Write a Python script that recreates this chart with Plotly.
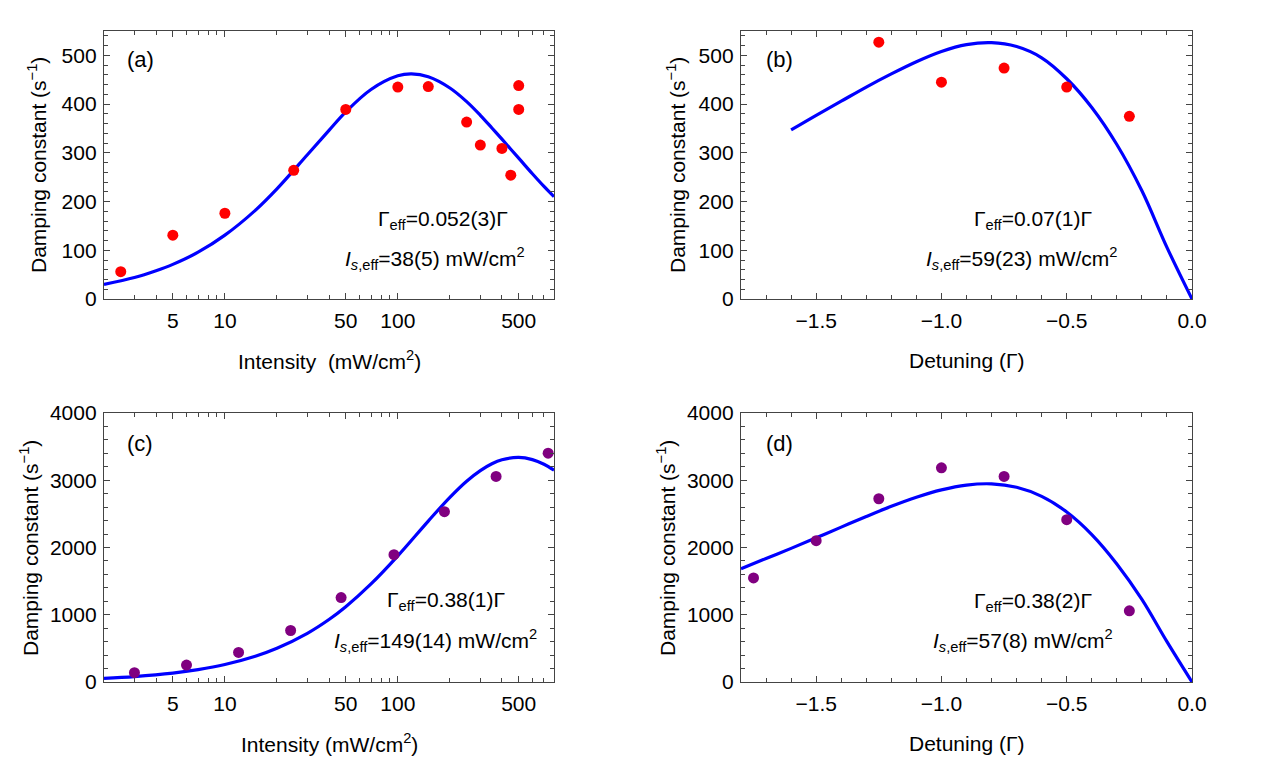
import math
import plotly.graph_objects as go

# ---------------- data ----------------
# (a) intensity scan, red points
a_intensity = [2.5, 5, 10, 25, 50, 100, 150, 250, 300, 400, 450, 500, 500]
a_damping = [56, 131, 176, 264, 389, 435, 436, 363, 316, 309, 254, 438, 389]
a_fit_intensity = [2, 3, 4, 5, 7, 10, 15, 20, 30, 40, 50, 70, 100, 120, 150, 200, 250, 300, 350, 400, 500, 600, 700, 800]
a_fit_damping = [30, 44, 58, 71, 96, 131, 182, 226, 296, 346, 384, 430, 458, 462, 456, 433, 405, 377, 351, 328, 289, 257, 231, 210]

# (b) detuning scan, red points
b_detuning = [-1.25, -1.0, -0.75, -0.5, -0.25]
b_damping = [527, 445, 474, 435, 375]
b_fit_detuning = [-1.6, -1.5, -1.4, -1.3, -1.2, -1.1, -1.0, -0.9, -0.8, -0.7, -0.6, -0.5, -0.4, -0.3, -0.2, -0.1, 0.0]
b_fit_damping = [347, 377, 406, 435, 462, 487, 508, 522, 526, 518, 495, 452, 393, 317, 222, 106, 0]

# (c) intensity scan, purple points
c_intensity = [3, 6, 12, 24, 47, 95, 186, 370, 740]
c_damping = [138, 252, 440, 766, 1256, 1894, 2532, 3056, 3402]
c_fit_intensity = [2, 3, 5, 7, 10, 15, 20, 30, 40, 50, 70, 100, 150, 200, 250, 300, 350, 400, 500, 600, 700, 800]
c_fit_damping = [54, 81, 133, 185, 261, 384, 502, 724, 929, 1119, 1458, 1876, 2393, 2746, 2986, 3144, 3246, 3305, 3340, 3307, 3238, 3150]

# (d) detuning scan, purple points
d_detuning = [-1.75, -1.5, -1.25, -1.0, -0.75, -0.5, -0.25]
d_damping = [1548, 2102, 2725, 3185, 3056, 2413, 1058]
d_fit_detuning = [-1.8, -1.7, -1.6, -1.5, -1.4, -1.3, -1.2, -1.1, -1.0, -0.9, -0.8, -0.7, -0.6, -0.5, -0.4, -0.3, -0.2, -0.1, 0.0]
d_fit_damping = [1685, 1837, 1987, 2144, 2303, 2461, 2612, 2747, 2857, 2928, 2946, 2895, 2760, 2528, 2193, 1756, 1228, 600, 0]

log_ticks = [5, 10, 50, 100, 500]
log_minor = [2, 3, 4, 6, 7, 8, 9, 20, 30, 40, 60, 70, 80, 90, 200, 300, 400, 600, 700, 800]
det_ticks = [-1.5, -1.0, -0.5, 0.0]

panel_labels = ["(a)", "(b)", "(c)", "(d)"]
gamma_texts = ["Γ<sub>eff</sub>=0.052(3)Γ", "Γ<sub>eff</sub>=0.07(1)Γ",
               "Γ<sub>eff</sub>=0.38(1)Γ", "Γ<sub>eff</sub>=0.38(2)Γ"]
isat_texts = ["<i>I</i><sub><i>s</i>,eff</sub>=38(5) mW/cm<sup>2</sup>",
              "<i>I</i><sub><i>s</i>,eff</sub>=59(23) mW/cm<sup>2</sup>",
              "<i>I</i><sub><i>s</i>,eff</sub>=149(14) mW/cm<sup>2</sup>",
              "<i>I</i><sub><i>s</i>,eff</sub>=57(8) mW/cm<sup>2</sup>"]
x_titles = ["Intensity\u00a0\u00a0(mW/cm<sup>2</sup>)", "Detuning (Γ)",
            "Intensity (mW/cm<sup>2</sup>)", "Detuning (Γ)"]
y_title = "Damping constant (s<sup>−1</sup>)"

# ---------------- styling ----------------
W, H = 1275, 775
FONT = "Liberation Sans, Arial, sans-serif"
RED = "rgb(255,0,0)"
PURPLE = "rgb(128,0,128)"
BLUE = "rgb(0,0,255)"
FRAME = "#444444"


def px(x):
    return x / W


def py(y):
    return 1 - y / H


fig = go.Figure()

series = [
    (a_fit_intensity, a_fit_damping, a_intensity, a_damping, RED),
    (b_fit_detuning, b_fit_damping, b_detuning, b_damping, RED),
    (c_fit_intensity, c_fit_damping, c_intensity, c_damping, PURPLE),
    (d_fit_detuning, d_fit_damping, d_detuning, d_damping, PURPLE),
]
for i, (fx, fy, mx, my, col) in enumerate(series):
    xa = "x" if i == 0 else f"x{i+1}"
    ya = "y" if i == 0 else f"y{i+1}"
    fig.add_trace(go.Scatter(x=fx, y=fy, mode="lines",
                             line=dict(color=BLUE, width=3.2, shape="spline", smoothing=1.0),
                             xaxis=xa, yaxis=ya, showlegend=False))
    fig.add_trace(go.Scatter(x=mx, y=my, mode="markers", marker=dict(color=col, size=11),
                             xaxis=xa, yaxis=ya, showlegend=False))

# panel pixel boxes: (left, right, top, bottom)
boxes = [(104, 554, 31, 299), (741, 1192, 31, 299), (104, 554, 413, 682), (741, 1192, 413, 682)]

common = dict(showline=True, mirror="ticks", linecolor=FRAME, linewidth=1.3,
              ticks="inside", ticklen=6, tickwidth=1, tickcolor=FRAME,
              showgrid=False, zeroline=False, automargin=False,
              tickfont=dict(family=FONT, size=21, color="black"))

layout = dict(template="none", width=W, height=H, margin=dict(l=0, r=0, t=0, b=0, pad=0),
              paper_bgcolor="white", plot_bgcolor="white", showlegend=False,
              font=dict(family=FONT, size=21, color="black"))

for i, (l, r, t, b) in enumerate(boxes):
    xs = "xaxis" if i == 0 else f"xaxis{i+1}"
    ys = "yaxis" if i == 0 else f"yaxis{i+1}"
    yanchor = "y" if i == 0 else f"y{i+1}"
    xanchor = "x" if i == 0 else f"x{i+1}"
    if i in (0, 2):
        xax = dict(common, type="log", range=[math.log10(2), math.log10(800)],
                   tickvals=log_ticks, ticktext=[str(v) for v in log_ticks],
                   minor=dict(ticks="inside", ticklen=3.5, tickcolor=FRAME, tickvals=log_minor))
    else:
        xax = dict(common, range=[-1.8, 0.0], tickvals=det_ticks, tickformat=".1f",
                   minor=dict(ticks="inside", ticklen=3.5, tickcolor=FRAME, dtick=0.1, tick0=0))
    xax.update(domain=[px(l), px(r)], anchor=yanchor, ticklabelstandoff=3)
    if i in (0, 1):
        yax = dict(common, range=[0, 550], dtick=100, tick0=0,
                   minor=dict(ticks="inside", ticklen=3.5, tickcolor=FRAME, dtick=20, tick0=0))
    else:
        yax = dict(common, range=[0, 4000], dtick=1000, tick0=0,
                   minor=dict(ticks="inside", ticklen=3.5, tickcolor=FRAME, dtick=200, tick0=0))
    yax.update(domain=[py(b), py(t)], anchor=xanchor, ticklabelstandoff=2)
    layout[xs] = xax
    layout[ys] = yax

fig.update_layout(**layout)

# text positions (pixels)
label_pos = [(140, 60), (779, 60), (140, 443), (779, 443)]
gamma_pos = [(443, 220), (1033, 220), (446, 601), (1033, 602)]
isat_pos = [(435, 258), (1022, 258), (435, 640), (1023, 640)]
xtitle_pos = [(329, 360), (966, 360), (329, 743), (966, 743)]
ytitle_pos = [(37, 165), (676, 165), (29, 548), (666, 548)]

for i in range(4):
    fig.add_annotation(x=px(label_pos[i][0]), y=py(label_pos[i][1]), xref="paper", yref="paper",
                       text=panel_labels[i], showarrow=False, xanchor="center", yanchor="middle",
                       font=dict(family=FONT, size=22, color="black"))
    fig.add_annotation(x=px(gamma_pos[i][0]), y=py(gamma_pos[i][1]), xref="paper", yref="paper",
                       text=gamma_texts[i], showarrow=False, xanchor="center", yanchor="middle",
                       font=dict(family=FONT, size=21, color="black"))
    fig.add_annotation(x=px(isat_pos[i][0]), y=py(isat_pos[i][1]), xref="paper", yref="paper",
                       text=isat_texts[i], showarrow=False, xanchor="center", yanchor="middle",
                       font=dict(family=FONT, size=21, color="black"))
    fig.add_annotation(x=px(xtitle_pos[i][0]), y=py(xtitle_pos[i][1]), xref="paper", yref="paper",
                       text=x_titles[i], showarrow=False, xanchor="center", yanchor="middle",
                       font=dict(family=FONT, size=21, color="black"))
    fig.add_annotation(x=px(ytitle_pos[i][0]), y=py(ytitle_pos[i][1]), xref="paper", yref="paper",
                       text=y_title, showarrow=False, xanchor="center", yanchor="middle", textangle=-90,
                       font=dict(family=FONT, size=21, color="black"))

fig.write_html("out.html")
